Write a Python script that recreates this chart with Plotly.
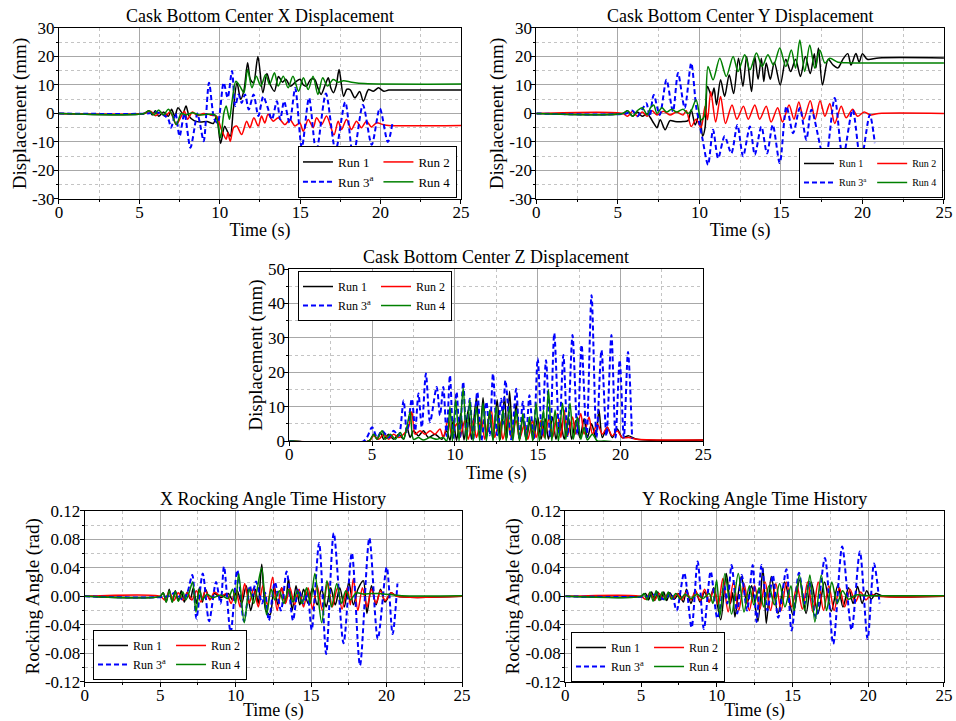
import plotly.graph_objects as go

FONT = "Liberation Serif"
RUN_NAMES = ["Run 1", "Run 2", "Run 3<sup>a</sup>", "Run 4"]
RUN_COLORS = ["#000000", "#ff0000", "#0000ff", "#008000"]

TIME_TICKS = [0, 5, 10, 15, 20, 25]
TIME_TICK_TEXT = ["0", "5", "10", "15", "20", "25"]
DISP_TICKS = [-30, -20, -10, 0, 10, 20, 30]
DISP_TICK_TEXT = ["-30", "-20", "-10", "0", "10", "20", "30"]
Z_TICKS = [0, 10, 20, 30, 40, 50]
Z_TICK_TEXT = ["0", "10", "20", "30", "40", "50"]
ANGLE_TICKS = [-0.12, -0.08, -0.04, 0.0, 0.04, 0.08, 0.12]
ANGLE_TICK_TEXT = ["-0.12", "-0.08", "-0.04", "0.00", "0.04", "0.08", "0.12"]

# ---------------- Cask bottom center X displacement (mm) ----------------
X_RUN1 = [(0, 0), (5.3, 0), (5.6, 1), (5.8, -0.5), (6.0, 1), (6.2, -1), (6.5, 0.5), (6.8, -1), (7.0, 1.5),
          (7.2, -1), (7.4, 2), (7.7, 0), (7.9, 2.6), (8.1, -1), (8.4, -2.5), (8.8, -3), (9.2, -2.8), (9.6, -3.5),
          (9.8, -1), (10.05, -10.5), (10.3, -4.5), (10.45, -6), (10.65, -8), (10.85, 2), (11.07, 10.8),
          (11.3, 5), (11.5, 8), (11.73, 17.8), (11.9, 12), (12.1, 10.8), (12.37, 20), (12.68, 7.3), (12.93, 14),
          (13.15, 10), (13.4, 7.8), (13.65, 13), (13.9, 11), (14.1, 12), (14.4, 9.6), (14.7, 11), (15.0, 12),
          (15.2, 10), (15.4, 9.6), (15.65, 12), (15.9, 12), (16.1, 9), (16.3, 6.7), (16.55, 10), (16.75, 12.5),
          (16.9, 9), (17.07, 7.3), (17.25, 10), (17.42, 15.4), (17.7, 6), (17.9, 8.5), (18.1, 8.4), (18.4, 5.5),
          (18.7, 7.7), (18.93, 4.3), (19.25, 8.4), (19.55, 7.8), (19.87, 9), (20.2, 7.8), (20.5, 8.2),
          (20.8, 8.2), (25, 8.2)]
X_RUN2 = [(0, 0), (5.3, 0), (5.7, 0.8), (6.0, -0.8), (6.3, 0.5), (6.6, -1), (6.9, 0.5), (7.1, -1.5),
          (7.3, -3.9), (7.6, -1), (7.8, 0.8), (8.0, -2), (8.3, 0.5), (8.6, -0.8), (9.0, 0), (9.4, -0.5),
          (9.8, -1), (10.1, -5.6), (10.4, -9), (10.5, -6.8), (10.65, -9.8), (10.85, -5), (11.05, -4.4),
          (11.36, -7.4), (11.67, -2.7), (11.87, -5), (12.12, -1.5), (12.39, -4.4), (12.6, -0.9), (12.8, -3.3),
          (13.0, -0.3), (13.32, -2.7), (13.63, -1.5), (14.05, -3.9), (14.36, -2.1), (14.67, -4.4),
          (14.98, -3.3), (15.19, -6.2), (15.5, -2.1), (15.81, -5), (16.02, -1.5), (16.33, -3.9),
          (16.64, -0.9), (17.1, -7.5), (17.36, -2.7), (17.57, -5.6), (17.88, -2.1), (18.19, -5.6),
          (18.5, -2.7), (18.81, -5), (19.12, -2.7), (19.43, -4.7), (19.74, -3.3), (20.16, -3.9),
          (20.5, -4.2), (25, -4.2)]
X_RUN3 = [(0, 0), (5.5, 0), (6.0, 0.5), (6.5, -0.5), (6.8, -2), (6.97, -5), (7.24, 0), (7.5, -8), (7.8, 0),
          (8.17, -12), (8.48, -3.3), (8.6, 0), (8.75, -3), (9.0, -9.7), (9.33, 10.8), (9.66, -2), (9.87, -3.3),
          (10.24, 10.8), (10.49, 5.5), (10.76, 14.9), (10.96, 2.6), (11.17, 6.7), (11.36, 3.7), (11.57, 6.7),
          (11.8, 1.4), (12.1, 6.7), (12.4, -0.9), (12.7, 6), (12.95, 2.6), (13.24, -2.1), (13.55, 4.3),
          (13.76, -2.1), (14.0, 4.3), (14.34, -3.3), (14.69, 8.9), (15.1, -12), (15.55, 5.5), (16.0, -13.5),
          (16.6, 7), (17.2, -13), (17.8, 4), (18.3, -15), (18.9, 3), (19.45, -11), (19.95, 1.8),
          (20.45, -10), (20.75, -3)]
X_RUN4 = [(0, 0), (5.3, 0), (5.6, 1), (5.9, -0.5), (6.2, 1.2), (6.5, -0.5), (6.8, 1.5), (7.0, 0), (7.3, -3.9),
          (7.6, 0), (7.9, -0.5), (8.3, 0.3), (8.7, -0.5), (9.2, -0.3), (9.7, -0.5), (9.87, -3.3), (10.05, -8.5),
          (10.25, 0), (10.4, 2.6), (10.6, -2), (10.75, 3.7), (11.0, 11.3), (11.25, 9.6), (11.5, 7.3),
          (11.73, 15.4), (12.0, 9), (12.27, 13.1), (12.55, 9.6), (12.85, 13.7), (13.1, 10.2), (13.4, 14.3),
          (13.63, 9.6), (13.95, 13.1), (14.25, 9), (14.55, 13.1), (14.9, 7.8), (15.2, 12.5), (15.5, 8.4),
          (15.8, 13.1), (16.1, 6.7), (16.4, 12.5), (16.7, 9.6), (17.05, 11.9), (17.36, 11), (17.7, 11.5),
          (18.2, 11), (19.0, 10.5), (25, 10.3)]

# ---------------- Cask bottom center Y displacement (mm) ----------------
Y_RUN1 = [(0, 0), (5.3, 0), (5.6, 1), (5.9, -1), (6.2, 0.5), (6.5, -1), (6.8, 0), (7.0, -1.5), (7.2, -3.4),
          (7.4, -5), (7.6, -2.2), (7.9, -5.7), (8.2, -2.5), (8.5, -2.8), (9.0, -2.8), (9.3, -2.5), (9.5, 1.3),
          (9.75, -4), (10.0, 0), (10.2, -8), (10.35, -5), (10.5, 9.5), (10.75, 6), (10.9, 8.9), (11.05, 3),
          (11.3, 11.8), (11.55, 6), (11.83, 13.6), (12.1, 7), (12.4, 19.4), (12.67, 9.5), (12.9, 20),
          (13.2, 7.7), (13.4, 20), (13.6, 12), (13.8, 19.4), (13.95, 11.2), (14.1, 17.7), (14.35, 12),
          (14.6, 18), (14.96, 10), (15.3, 19), (15.6, 14.7), (15.9, 19), (16.2, 13), (16.5, 20), (16.8, 14),
          (17.05, 21), (17.15, 16), (17.3, 23), (17.55, 10), (17.9, 19), (18.2, 17), (18.5, 16), (18.8, 19),
          (19.1, 21), (19.3, 17), (19.6, 21), (19.8, 18), (20.0, 21), (20.3, 19), (21, 19.5), (25, 19.5)]
Y_RUN2 = [(0, 0), (5.3, 0), (5.6, -1), (5.9, 0.8), (6.2, -1), (6.5, 0.5), (6.8, -1), (7.1, 1), (7.4, -0.5),
          (7.8, 0.8), (8.2, -0.5), (8.6, 0.5), (9.0, -0.5), (9.2, 1), (9.5, -4.6), (9.8, -2), (10.1, -5),
          (10.35, 2.5), (10.5, -2.2), (10.7, 7.7), (11.0, -3), (11.3, 6), (11.6, -3.5), (12.0, 3), (12.3, -2),
          (12.7, 2.5), (13.0, -2), (13.4, 3), (13.7, -2), (14.1, 2.5), (14.4, -3), (14.8, 2), (15.1, -3),
          (15.5, 3), (15.8, -2), (16.1, 4), (16.4, -2), (16.8, 4.5), (17.1, -2), (17.4, 4.5), (17.7, -1),
          (18.0, 3.5), (18.3, -3.5), (18.7, 2.5), (19.0, -1.5), (19.4, 1.5), (19.7, -1), (20.1, 0.5),
          (20.5, -0.5), (21, 0), (25, 0)]
Y_RUN3 = [(0, 0), (5.5, 0), (5.9, 1), (6.2, -1), (6.5, 1.5), (6.75, 3.6), (6.95, -1), (7.2, 6.5),
          (7.57, -0.5), (7.98, 11.8), (8.38, 0.7), (8.69, 14.2), (9.1, 1.9), (9.5, 17.7), (9.8, 2.5),
          (10.0, -3.4), (10.2, -9.2), (10.53, -18), (10.84, -5.7), (11.15, -15.7), (11.55, -8), (11.96, -14),
          (12.33, -4), (12.68, -15), (13.1, -4.6), (13.4, -14.5), (13.8, -4.6), (14.15, -14), (14.5, -4),
          (14.93, -17.4), (15.34, 2.5), (15.75, -6.9), (16.16, 1.9), (16.56, -9.2), (16.87, 1.3),
          (17.7, -16.8), (18.3, 5.4), (18.8, -15.7), (19.4, 1.3), (19.9, -16.8), (20.45, -0.5),
          (20.76, -10.4)]
Y_RUN4 = [(0, 0), (5.3, 0), (5.6, 1), (5.9, -1), (6.2, 1), (6.5, 2), (6.8, -0.5), (7.0, 2), (7.2, 3),
          (7.4, 0), (7.7, 2), (8.0, 0.5), (8.3, 1.5), (8.6, 0.5), (9.0, 1.5), (9.3, 0), (9.5, 1), (9.8, 4.8),
          (10.1, -2.2), (10.3, -1), (10.53, 16.5), (10.84, 11.8), (11.25, 19.4), (11.65, 13), (12.07, 20),
          (12.37, 14.7), (12.78, 20.6), (13.1, 15.3), (13.5, 21.2), (13.85, 16.5), (14.2, 20.6), (14.55, 17),
          (14.93, 23), (15.3, 16.5), (15.64, 22.3), (15.9, 15.9), (16.16, 25.8), (16.46, 14.7), (16.77, 24),
          (17.08, 15.9), (17.38, 22.3), (17.7, 17.7), (18.0, 19.4), (18.5, 18), (19.0, 17.8), (25, 17.7)]

# ---------------- Cask bottom center Z displacement (mm) ----------------
Z_RUN1 = [(0, 0), (4.8, 0), (5.1, 2), (5.3, 0.5), (5.5, 2.5), (5.7, 0.5), (6.0, 2), (6.3, 0.5), (6.6, 2),
          (6.9, 0.5), (7.1, 4), (7.3, 1), (7.5, 3), (7.8, 1.5), (8.1, 3), (8.4, 1), (8.8, 2), (9.2, 0.5),
          (9.5, 3), (9.7, 0.2), (9.9, 6), (10.1, 0.2), (10.35, 8), (10.55, 0.3), (10.8, 9), (11.0, 0.5),
          (11.3, 12.6), (11.5, 0.5), (11.7, 12.6), (11.9, 1), (12.1, 8), (12.3, 0.5), (12.55, 12), (12.75, 0.5),
          (13.0, 13), (13.15, 1), (13.3, 14.5), (13.5, 1), (13.7, 11), (13.9, 0.5), (14.1, 7), (14.3, 0.5),
          (14.55, 6), (14.75, 0.5), (15.0, 7), (15.2, 0.5), (15.45, 6.5), (15.65, 0.5), (15.9, 7), (16.1, 0.5),
          (16.35, 6), (16.6, 0.5), (16.85, 7), (17.05, 0.5), (17.3, 6), (17.55, 1), (17.8, 6.5), (18.0, 1),
          (18.25, 5), (18.5, 1), (18.7, 9), (18.9, 1), (19.2, 4), (19.5, 1), (19.8, 3.5), (20.1, 1),
          (20.5, 1.5), (21, 0.5), (25, 0.3)]
Z_RUN2 = [(0, 0), (4.8, 0), (5.1, 1.5), (5.4, 0.5), (5.7, 2), (6.0, 0.5), (6.3, 2), (6.6, 1), (7.0, 2.5),
          (7.2, 4), (7.4, 8.5), (7.6, 2), (7.9, 3), (8.2, 2), (8.5, 3), (8.8, 2), (9.1, 3.5), (9.3, 1),
          (9.6, 6.5), (9.8, 2), (10.1, 5), (10.3, 1), (10.6, 6), (10.8, 0.5), (11.1, 6), (11.3, 1), (11.6, 6.5),
          (11.8, 0.5), (12.05, 7), (12.2, 9), (12.4, 1), (12.7, 6), (12.9, 0.5), (13.2, 7), (13.4, 1),
          (13.7, 6), (13.9, 0.5), (14.2, 5), (14.4, 0.5), (14.7, 6), (14.9, 1), (15.2, 6), (15.4, 1),
          (15.7, 7), (15.9, 1), (16.2, 8), (16.4, 1), (16.6, 9), (16.8, 1.5), (17.1, 7), (17.3, 2), (17.6, 8),
          (17.8, 2), (18.1, 7), (18.3, 2), (18.6, 5), (18.9, 2), (19.2, 4), (19.5, 1.5), (19.8, 3), (20.1, 1),
          (20.5, 1), (21, 0.5), (25, 0.3)]
Z_RUN3 = [(0, 0), (4.5, 0), (5.0, 4), (5.3, 1), (5.6, 3), (6.0, 1), (6.3, 3), (6.6, 1.5), (6.9, 11.8),
          (7.1, 2.6), (7.4, 12.3), (7.6, 3), (7.8, 13.8), (8.0, 4), (8.25, 19.6), (8.5, 5.5), (8.9, 15.7),
          (9.1, 7.5), (9.3, 15.7), (9.5, 1.5), (9.7, 19.1), (9.9, 0.5), (10.1, 14.3), (10.3, 0.7),
          (10.5, 17.2), (10.7, 1.2), (10.9, 12.3), (11.1, 0.2), (11.35, 14.3), (11.6, 0.2), (11.9, 11.4),
          (12.1, 1.7), (12.3, 19.6), (12.55, 1.7), (12.8, 12.3), (12.9, 5), (13.05, 17.7), (13.4, 0.5),
          (13.7, 15.2), (13.9, 0.5), (14.1, 11.4), (14.3, 1), (14.5, 13.3), (14.75, 0.5), (15.0, 24),
          (15.25, 1.5), (15.5, 23.5), (15.75, 1), (16.0, 31.3), (16.3, 2), (16.55, 25), (16.8, 1.5),
          (17.1, 30.8), (17.4, 2), (17.65, 27.9), (17.95, 1), (18.25, 42.4), (18.55, 1), (18.85, 26.4),
          (19.15, 1.5), (19.45, 30.8), (19.7, 1), (19.95, 23.5), (20.2, 1), (20.45, 25.9), (20.7, 0.7)]
Z_RUN4 = [(0, 0), (4.8, 0), (5.1, 2), (5.3, 0.5), (5.6, 3), (5.8, 0.5), (6.1, 2), (6.4, 0.5), (6.7, 2.5),
          (6.9, 0.5), (7.1, 4), (7.3, 8.5), (7.5, 0.5), (7.8, 1), (8.1, 0.3), (8.5, 1), (8.9, 0.5), (9.3, 1),
          (9.5, 0), (9.7, 10), (9.85, 0), (10.05, 12), (10.25, 0), (10.5, 15.5), (10.7, 0), (10.9, 12),
          (11.1, 0), (11.3, 10), (11.5, 0), (11.7, 11), (11.9, 0), (12.1, 9), (12.3, 0), (12.5, 10), (12.7, 0),
          (12.9, 9), (13.1, 0), (13.3, 10), (13.5, 0), (13.7, 9), (13.9, 0), (14.1, 8), (14.3, 0), (14.5, 7),
          (14.7, 0), (14.9, 11), (15.1, 0), (15.35, 9), (15.45, 0.5), (15.65, 15), (15.85, 0), (16.05, 9),
          (16.25, 0), (16.5, 11), (16.7, 0.5), (16.95, 11), (17.15, 0.5), (17.4, 7), (17.6, 0.5), (17.8, 4),
          (18.0, 0.3), (18.3, 2), (18.6, 0), (19, 0), (20, -0.3), (25, -0.5)]

# ---------------- X rocking angle (rad) ----------------
XR_RUN1 = [(0, 0), (5.0, 0), (5.2, 0.005), (5.4, -0.008), (5.6, 0.01), (5.8, -0.008), (6.0, 0.008),
           (6.2, -0.006), (6.4, 0.008), (6.6, -0.008), (6.8, 0.006), (7.0, -0.004), (7.2, 0.012), (7.4, -0.01),
           (7.6, 0.012), (7.8, -0.008), (8.0, 0.01), (8.3, -0.004), (8.6, 0.004), (9.0, -0.002), (9.5, 0.004),
           (9.8, -0.005), (10.1, 0.008), (10.4, -0.01), (10.7, 0.015), (11.0, -0.02), (11.3, 0.01),
           (11.5, -0.01), (11.73, 0.045), (12.0, -0.02), (12.28, -0.026), (12.55, 0.015), (12.8, -0.012),
           (13.05, 0.012), (13.3, -0.01), (13.5, 0.025), (13.75, -0.02), (14.0, 0.015), (14.25, -0.012),
           (14.5, 0.01), (14.8, -0.01), (15.1, 0.012), (15.4, -0.012), (15.7, 0.01), (16.0, -0.015),
           (16.3, 0.012), (16.6, -0.012), (16.9, 0.012), (17.2, -0.015), (17.5, 0.02), (17.8, -0.012),
           (18.1, 0.01), (18.46, 0.022), (18.7, -0.024), (19.0, 0.015), (19.3, -0.012), (19.6, 0.01),
           (19.9, -0.008), (20.3, 0.005), (20.7, 0), (25, 0)]
XR_RUN2 = [(0, 0), (5.0, 0), (5.3, -0.005), (5.6, 0.006), (5.9, -0.006), (6.2, 0.005), (6.5, -0.005),
           (6.8, 0.005), (7.1, -0.005), (7.4, 0.008), (7.7, -0.008), (8.0, 0.008), (8.3, -0.005), (8.6, 0.006),
           (9.0, 0.0), (9.4, 0.004), (9.7, -0.01), (10.0, 0.01), (10.3, -0.015), (10.6, 0.018), (10.9, -0.01),
           (11.2, 0.012), (11.5, -0.015), (11.8, 0.015), (12.1, -0.012), (12.45, 0.027), (12.75, -0.02),
           (13.05, 0.012), (13.3, -0.01), (13.6, 0.012), (13.9, -0.012), (14.2, 0.01), (14.5, -0.015),
           (14.8, 0.012), (15.1, -0.018), (15.4, 0.015), (15.75, -0.02), (16.1, 0.02), (16.4, -0.015),
           (16.75, 0.012), (17.05, -0.018), (17.4, 0.012), (17.6, -0.012), (17.8, 0.025), (18.1, -0.02),
           (18.4, 0.012), (18.7, -0.015), (19.0, 0.01), (19.3, -0.01), (19.6, 0.008), (19.9, -0.006),
           (20.3, 0.005), (20.7, 0), (25, 0)]
XR_RUN3 = [(0, 0), (5.5, 0), (6.0, 0.005), (6.5, -0.005), (6.8, 0.005), (7.13, 0.03), (7.4, -0.031),
           (7.82, 0.032), (8.24, -0.035), (8.7, 0.02), (9.0, -0.01), (9.23, 0.042), (9.67, -0.051),
           (10.11, 0.037), (10.55, -0.035), (10.95, 0.015), (11.1, 0.0), (11.35, 0.021), (11.75, -0.01),
           (11.95, 0.005), (12.2, -0.034), (12.6, 0.02), (13.0, -0.02), (13.38, 0.035), (13.8, -0.034),
           (14.15, 0.01), (14.5, -0.01), (14.75, 0.005), (15.04, -0.047), (15.53, 0.075), (16.0, -0.081),
           (16.5, 0.089), (17.15, -0.066), (17.7, 0.061), (18.24, -0.097), (18.86, 0.082), (19.42, -0.06),
           (20.01, 0.041), (20.4, -0.053), (20.72, 0.018)]
XR_RUN4 = [(0, 0), (5.0, 0), (5.2, 0.005), (5.4, -0.008), (5.6, 0.008), (5.8, -0.008), (6.0, 0.007),
           (6.2, -0.007), (6.5, 0.006), (6.7, -0.005), (6.9, 0.004), (7.15, 0.02), (7.37, -0.022), (7.6, 0.01),
           (7.8, -0.005), (8.1, 0.003), (8.5, -0.002), (9.0, 0.002), (9.5, -0.003), (9.8, 0.01), (10.0, -0.01),
           (10.2, 0.032), (10.57, -0.037), (10.9, 0.01), (11.2, -0.01), (11.72, 0.04), (12.05, -0.026),
           (12.35, 0.01), (12.6, -0.005), (12.9, 0.008), (13.2, -0.01), (13.5, 0.01), (13.8, -0.008),
           (14.1, 0.008), (14.4, -0.01), (14.7, 0.012), (14.95, -0.01), (15.25, 0.032), (15.7, -0.037),
           (16.05, 0.022), (16.35, -0.015), (16.7, 0.018), (17.0, -0.01), (17.3, 0.008), (17.6, -0.005),
           (18.0, 0.005), (18.5, 0.003), (19.0, 0.004), (19.5, 0.004), (20, 0.003), (21, 0.001), (25, 0.001)]

# ---------------- Y rocking angle (rad) ----------------
YR_RUN1 = [(0, 0), (5.0, 0), (5.3, 0.004), (5.5, -0.005), (5.7, 0.006), (5.9, -0.006), (6.1, 0.006),
           (6.3, -0.005), (6.5, 0.006), (6.7, -0.006), (6.9, 0.005), (7.2, -0.004), (7.5, 0.004),
           (7.8, -0.008), (8.0, 0.01), (8.3, -0.01), (8.6, 0.008), (8.9, -0.008), (9.2, 0.006), (9.5, -0.008),
           (9.8, 0.012), (10.26, -0.033), (10.63, 0.032), (10.9, -0.01), (11.05, 0.005), (11.2, -0.029),
           (11.62, 0.028), (12.0, -0.01), (12.3, 0.015), (12.72, -0.035), (13.05, 0.04), (13.27, -0.038),
           (13.6, 0.028), (14.04, -0.024), (14.48, 0.02), (15.03, -0.026), (15.47, 0.023), (15.9, -0.024),
           (16.24, 0.02), (16.68, -0.024), (17.12, 0.02), (17.56, -0.021), (18.0, 0.016), (18.33, -0.015),
           (18.7, 0.012), (19.0, -0.01), (19.3, 0.014), (19.6, -0.01), (19.9, 0.008), (20.2, -0.004),
           (20.5, 0.004), (21, 0), (25, 0)]
YR_RUN2 = [(0, 0), (5.0, 0), (5.3, -0.004), (5.6, 0.005), (5.9, -0.005), (6.2, 0.004), (6.5, -0.004),
           (6.8, 0.004), (7.1, -0.004), (7.4, 0.004), (7.7, -0.005), (8.0, 0.006), (8.3, -0.005), (8.6, 0.008),
           (8.9, -0.006), (9.2, 0.01), (9.5, -0.008), (9.8, 0.01), (10.1, -0.012), (10.4, 0.025),
           (10.75, -0.022), (11.1, 0.02), (11.45, -0.02), (11.8, 0.018), (12.15, -0.02), (12.5, 0.015),
           (12.85, -0.018), (13.2, 0.02), (13.55, -0.02), (13.9, 0.018), (14.25, -0.02), (14.6, 0.02),
           (14.95, -0.015), (15.3, 0.015), (15.65, -0.018), (16.0, 0.02), (16.35, -0.022), (16.7, 0.02),
           (17.05, -0.02), (17.4, 0.015), (17.75, -0.02), (18.1, 0.012), (18.45, -0.015), (18.8, 0.01),
           (19.15, -0.008), (19.5, 0.006), (19.85, -0.005), (20.2, 0.003), (20.6, 0), (25, 0)]
YR_RUN3 = [(0, 0), (5.5, 0), (6.0, 0.003), (6.5, -0.004), (7.0, 0.004), (7.35, -0.02), (7.85, 0.033),
           (8.34, -0.044), (8.74, 0.049), (9.15, -0.046), (9.6, 0.035), (10.04, -0.031), (10.5, 0.015),
           (10.7, -0.01), (10.98, 0.044), (11.35, -0.024), (11.65, 0.03), (12.0, -0.02), (12.37, 0.044),
           (12.63, -0.036), (12.96, 0.044), (13.35, -0.02), (13.7, 0.03), (14.06, -0.03), (14.6, 0.038),
           (14.94, -0.048), (15.43, 0.033), (15.8, -0.01), (16.1, 0.02), (16.55, -0.03), (17.14, 0.054),
           (17.69, -0.067), (18.28, 0.07), (18.9, -0.047), (19.45, 0.063), (19.96, -0.06), (20.38, 0.046),
           (20.75, -0.01)]
YR_RUN4 = [(0, 0), (5.0, 0), (5.2, 0.004), (5.4, -0.005), (5.6, 0.006), (5.8, -0.007), (6.0, 0.008),
           (6.2, -0.006), (6.4, 0.006), (6.6, -0.005), (6.8, 0.006), (7.0, -0.004), (7.3, 0.004),
           (7.6, -0.004), (7.9, 0.003), (8.3, -0.003), (8.7, 0.003), (9.1, -0.003), (9.5, 0.004),
           (9.75, -0.01), (9.99, 0.023), (10.21, -0.028), (10.54, 0.032), (10.98, -0.025), (11.42, 0.032),
           (11.8, -0.022), (12.15, 0.015), (12.45, -0.012), (12.8, 0.012), (13.1, -0.015), (13.45, 0.015),
           (13.8, -0.012), (14.15, 0.018), (14.5, -0.015), (14.9, 0.015), (15.1, -0.02), (15.45, 0.03),
           (15.8, -0.02), (16.15, 0.03), (16.48, -0.036), (16.9, 0.03), (17.25, -0.02), (17.6, 0.02),
           (17.95, -0.01), (18.3, 0.008), (18.7, -0.004), (19.2, 0.002), (20, 0.001), (25, 0.001)]

PANELS = [
    dict(title="Cask Bottom Center X Displacement", series=[X_RUN1, X_RUN2, X_RUN3, X_RUN4],
         ytitle="Displacement (mm)", yrange=[-30, 30], yticks=DISP_TICKS, yticktext=DISP_TICK_TEXT, yminor=5,
         xdom=[0.0617, 0.4822], ydom=[0.7240, 0.9612],
         legend=dict(x=0.478, y=0.7254, xanchor="right", yanchor="bottom", size=13)),
    dict(title="Cask Bottom Center Y Displacement", series=[Y_RUN1, Y_RUN2, Y_RUN3, Y_RUN4],
         ytitle="Displacement (mm)", yrange=[-30, 30], yticks=DISP_TICKS, yticktext=DISP_TICK_TEXT, yminor=5,
         xdom=[0.5610, 0.9874], ydom=[0.7240, 0.9612],
         legend=dict(x=0.9864, y=0.7254, xanchor="right", yanchor="bottom", size=10)),
    dict(title="Cask Bottom Center Z Displacement", series=[Z_RUN1, Z_RUN2, Z_RUN3, Z_RUN4],
         ytitle="Displacement (mm)", yrange=[0, 50], yticks=Z_TICKS, yticktext=Z_TICK_TEXT, yminor=5,
         xdom=[0.3026, 0.7357], ydom=[0.3883, 0.6269],
         legend=dict(x=0.3117, y=0.6241, xanchor="left", yanchor="top", size=12)),
    dict(title="X Rocking Angle Time History", series=[XR_RUN1, XR_RUN2, XR_RUN3, XR_RUN4],
         ytitle="Rocking Angle (rad)", yrange=[-0.12, 0.12], yticks=ANGLE_TICKS, yticktext=ANGLE_TICK_TEXT,
         yminor=0.02, xdom=[0.0886, 0.4833], ydom=[0.0545, 0.2913],
         legend=dict(x=0.0973, y=0.0569, xanchor="left", yanchor="bottom", size=12)),
    dict(title="Y Rocking Angle Time History", series=[YR_RUN1, YR_RUN2, YR_RUN3, YR_RUN4],
         ytitle="Rocking Angle (rad)", yrange=[-0.12, 0.12], yticks=ANGLE_TICKS, yticktext=ANGLE_TICK_TEXT,
         yminor=0.02, xdom=[0.5913, 0.9874], ydom=[0.0545, 0.2913],
         legend=dict(x=0.5973, y=0.0541, xanchor="left", yanchor="bottom", size=12)),
]

fig = go.Figure()
layout = dict(
    width=956, height=721, template="none",
    margin=dict(l=0, r=0, t=0, b=0, pad=0),
    paper_bgcolor="white", plot_bgcolor="white",
    font=dict(family=FONT, size=17, color="black"),
    annotations=[],
)


def axis_style(minor_dtick, label_shift):
    return dict(
        showline=True, linecolor="black", linewidth=1, mirror=True,
        ticks="outside", ticklen=4, tickwidth=1, tickcolor="black",
        ticklabelstandoff=label_shift,
        showgrid=True, gridcolor="#a8a8a8", gridwidth=1.2,
        zeroline=False, automargin=False,
        tickfont=dict(family=FONT, size=17, color="black"),
        minor=dict(dtick=minor_dtick, tick0=0, ticks="outside", ticklen=2, tickcolor="black",
                   showgrid=True, gridcolor="#c4c4c4", griddash="dot", gridwidth=1),
    )


for pi, p in enumerate(PANELS):
    sfx = "" if pi == 0 else str(pi + 1)
    for ri, series in enumerate(p["series"]):
        t = [pt[0] for pt in series]
        v = [pt[1] for pt in series]
        is_dash = ri == 2
        fig.add_trace(go.Scatter(
            x=t, y=v, mode="lines", name=RUN_NAMES[ri],
            line=dict(color=RUN_COLORS[ri], width=2 if is_dash else 1.5,
                      dash="5px,3px" if is_dash else "solid", shape="spline", smoothing=0.8),
            xaxis="x" + sfx, yaxis="y" + sfx, legend="legend" + sfx,
            legendgroup="p%dg%d" % (pi, ri % 2), showlegend=True, hoverinfo="skip",
        ))
    xa = axis_style(2.5, -6)
    xa.update(domain=p["xdom"], anchor="y" + sfx, range=[0, 25], tickmode="array",
              tickvals=TIME_TICKS, ticktext=TIME_TICK_TEXT,
              title=dict(text="Time (s)", font=dict(family=FONT, size=18), standoff=2))
    ya = axis_style(p["yminor"], -4)
    ya.update(domain=p["ydom"], anchor="x" + sfx, range=p["yrange"], tickmode="array",
              tickvals=p["yticks"], ticktext=p["yticktext"],
              title=dict(text=p["ytitle"], font=dict(family=FONT, size=19), standoff=0))
    layout["xaxis" + sfx] = xa
    layout["yaxis" + sfx] = ya
    lg = p["legend"]
    layout["legend" + sfx] = dict(
        x=lg["x"], y=lg["y"], xanchor=lg["xanchor"], yanchor=lg["yanchor"], xref="paper", yref="paper",
        orientation="h", traceorder="grouped", tracegroupgap=0, itemwidth=30,
        bgcolor="white", bordercolor="black", borderwidth=1,
        font=dict(family=FONT, size=lg["size"], color="black"),
    )
    layout["annotations"].append(dict(
        text=p["title"], xref="x%s domain" % sfx, yref="y%s domain" % sfx, x=0.5, y=1,
        xanchor="center", yanchor="bottom", yshift=0, showarrow=False,
        font=dict(family=FONT, size=18, color="black"),
    ))

fig.update_layout(**layout)
fig.write_html("out.html", config={"displayModeBar": False},
               post_script="document.body.style.margin='0';")
